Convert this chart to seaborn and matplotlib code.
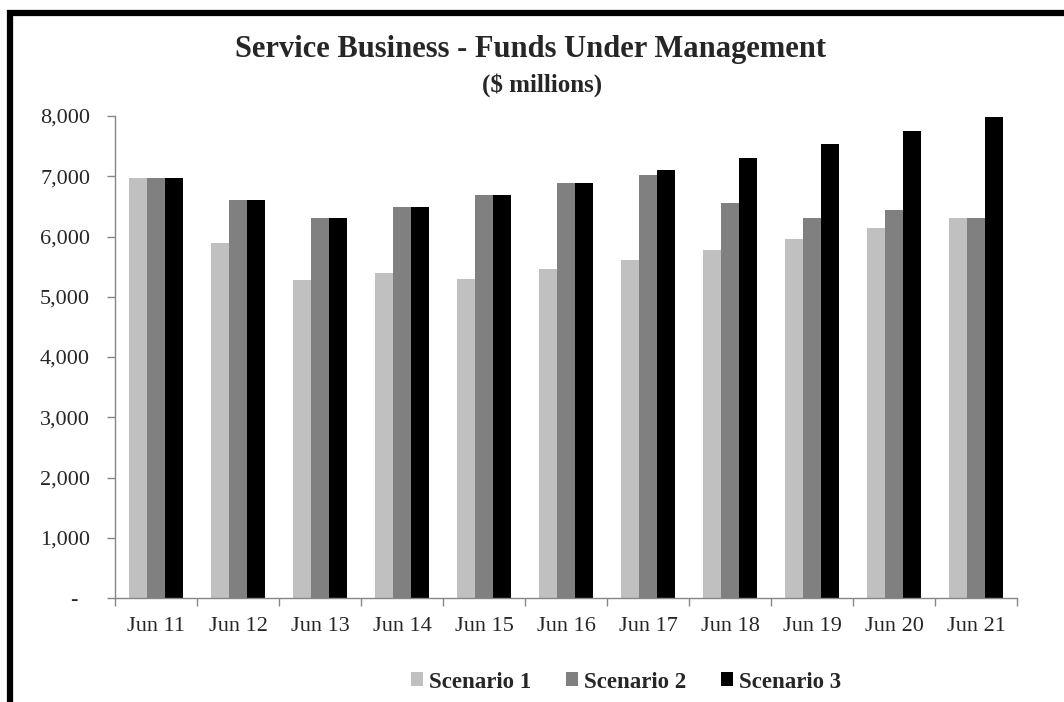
import matplotlib
matplotlib.use("Agg")
import matplotlib.pyplot as plt
from matplotlib.patches import Rectangle
from matplotlib.ticker import FuncFormatter
import seaborn as sns
import pandas as pd

periods = ["Jun 11", "Jun 12", "Jun 13", "Jun 14", "Jun 15", "Jun 16",
           "Jun 17", "Jun 18", "Jun 19", "Jun 20", "Jun 21"]
scenario_1 = [6975, 5900, 5285, 5390, 5290, 5455, 5617, 5783, 5954, 6136, 6313]
scenario_2 = [6975, 6600, 6313, 6496, 6695, 6894, 7027, 6556, 6313, 6434, 6313]
scenario_3 = [6975, 6600, 6313, 6496, 6695, 6894, 7098, 7308, 7529, 7756, 7988]
series_names = ["Scenario 1", "Scenario 2", "Scenario 3"]
colors = ["#C0C0C0", "#808080", "#000000"]

rows = []
for name, vals in zip(series_names, [scenario_1, scenario_2, scenario_3]):
    for p, v in zip(periods, vals):
        rows.append({"Period": p, "Scenario": name, "Value": v})
df = pd.DataFrame(rows)

sns.set_theme(style="white")
plt.rcParams["font.family"] = ["Liberation Serif", "DejaVu Serif"]

fig = plt.figure(figsize=(10.64, 7.02), dpi=100)
ax = fig.add_axes([115 / 1064, 1 - 598 / 702, (1017 - 115) / 1064, (598 - 116) / 702])

sns.barplot(data=df, x="Period", y="Value", hue="Scenario", order=periods,
            hue_order=series_names, palette=colors, width=0.66,
            saturation=1, ax=ax, legend=True, linewidth=0)

ax.set_ylim(0, 8000)
ax.set_xlim(-0.5, len(periods) - 0.5)
ax.set_yticks(range(0, 8001, 1000))
ax.yaxis.set_major_formatter(FuncFormatter(lambda v, p: "-  " if v == 0 else f"{int(v):,}"))
ax.tick_params(axis="y", which="major", length=6, width=1, color="#868686",
               labelsize=16, pad=12, left=True, direction="out")

ax.set_xticks([i - 0.5 for i in range(len(periods) + 1)])
ax.set_xticklabels([])
ax.set_xticks(range(len(periods)), minor=True)
ax.set_xticklabels(periods, minor=True)
ax.tick_params(axis="x", which="major", length=6, width=1, color="#868686",
               bottom=True, direction="out")
ax.tick_params(axis="x", which="minor", length=0, labelsize=16, pad=14)

ax.set_xlabel("")
ax.set_ylabel("")
for s in ["top", "right"]:
    ax.spines[s].set_visible(False)
for s in ["left", "bottom"]:
    ax.spines[s].set_color("#868686")
    ax.spines[s].set_linewidth(1)
ax.grid(False)

handles, labels = ax.get_legend_handles_labels()
ax.legend_.remove()
fig.legend(handles, labels, loc="center", bbox_to_anchor=(626 / 1064, 1 - 682 / 702),
           ncol=3, frameon=False, handlelength=0.55, handleheight=0.55,
           handletextpad=0.25, columnspacing=1.5,
           prop={"family": ["Liberation Serif"], "weight": "bold", "size": 16.5})

fig.text(531 / 1064, 1 - 50 / 702, "Service Business - Funds Under Management",
         ha="center", va="center", fontsize=22, fontweight="bold")
fig.text(542 / 1064, 1 - 85 / 702, "($ millions)",
         ha="center", va="center", fontsize=18, fontweight="bold")

fig.add_artist(Rectangle((10 / 1064, -0.2), 1.5, 1.2 - 13 / 702,
                         transform=fig.transFigure, fill=False,
                         edgecolor="black", linewidth=4.5, clip_on=False))

fig.savefig("out.png", dpi=100, facecolor="white")
